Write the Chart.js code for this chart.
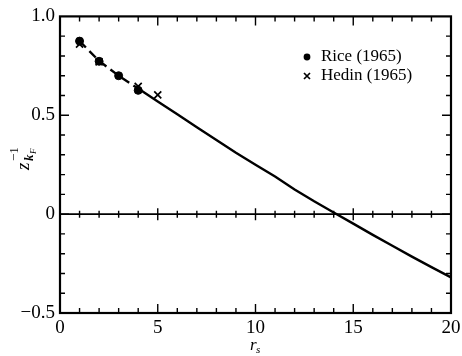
<!DOCTYPE html>
<html><head><meta charset="utf-8">
<script src="https://cdn.jsdelivr.net/npm/chart.js@4.4.1/dist/chart.umd.min.js"></script>
<style>html,body{margin:0;padding:0;background:#fff}#wrap{width:462px;height:356px}</style>
</head><body><div id="wrap"><canvas id="c" width="462" height="356"></canvas></div>
<script>
const curveDashX = [1, 2, 3, 4];
const curveDashY = [0.875, 0.775, 0.70, 0.635];
const curveX = [4, 5, 6, 7, 8, 9, 10, 11, 12, 13, 14, 15, 16, 17, 18, 19, 20];
const curveY = [0.635, 0.57, 0.505, 0.44, 0.375, 0.31, 0.25, 0.19, 0.125, 0.065, 0.008, -0.048, -0.105, -0.16, -0.215, -0.268, -0.32];
const riceX = [1, 2, 3, 4];
const riceY = [0.875, 0.773, 0.70, 0.626];
const hedinX = [1, 2, 4, 5];
const hedinY = [0.86, 0.77, 0.646, 0.603];
const xTicks = [0, 5, 10, 15, 20];
const yTicks = [-0.5, 0, 0.5, 1.0];
const yTickLabels = ['−0.5', '0', '0.5', '1.0'];
const legendLabels = ['Rice (1965)', 'Hedin (1965)'];

const pts = (xs, ys) => xs.map((x, i) => ({x, y: ys[i]}));
const SERIF = '"Liberation Serif", "DejaVu Serif", serif';

const deco = {
  id: 'deco',
  afterDraw(chart) {
    const ctx = chart.ctx, a = chart.chartArea;
    const xs = chart.scales.x, ys = chart.scales.y;
    ctx.save();
    ctx.strokeStyle = '#000';
    ctx.lineWidth = 2.2;
    ctx.strokeRect(a.left, a.top, a.right - a.left, a.bottom - a.top);
    const y0 = ys.getPixelForValue(0);
    ctx.lineWidth = 1.6;
    ctx.beginPath(); ctx.moveTo(a.left, y0); ctx.lineTo(a.right, y0); ctx.stroke();
    ctx.lineWidth = 1.4;
    ctx.beginPath();
    for (let v = 1; v < 20; v++) {
      const px = xs.getPixelForValue(v);
      const major = v % 5 === 0;
      const L = major ? 9 : 5;
      ctx.moveTo(px, a.bottom); ctx.lineTo(px, a.bottom - L);
      ctx.moveTo(px, a.top); ctx.lineTo(px, a.top + L);
      const Z = major ? 6 : 3.5;
      ctx.moveTo(px, y0 - Z); ctx.lineTo(px, y0 + Z);
    }
    for (let k = -4; k <= 9; k++) {
      const v = k / 10;
      const py = ys.getPixelForValue(v);
      const L = (k === 0 || k === 5) ? 9 : 5;
      ctx.moveTo(a.left, py); ctx.lineTo(a.left + L, py);
      ctx.moveTo(a.right, py); ctx.lineTo(a.right - L, py);
    }
    ctx.stroke();

    // legend
    ctx.fillStyle = '#000';
    ctx.font = '17px ' + SERIF;
    ctx.textBaseline = 'middle';
    ctx.textAlign = 'left';
    ctx.beginPath(); ctx.arc(307, 57, 3.4, 0, Math.PI * 2); ctx.fill();
    ctx.fillText(legendLabels[0], 321, 57);
    ctx.lineWidth = 1.7;
    ctx.beginPath();
    ctx.moveTo(304, 73); ctx.lineTo(310, 79);
    ctx.moveTo(310, 73); ctx.lineTo(304, 79);
    ctx.stroke();
    ctx.fillText(legendLabels[1], 321, 76);

    // x title r_s
    ctx.font = 'italic 17px ' + SERIF;
    ctx.textBaseline = 'alphabetic';
    ctx.fillText('r', 250, 350);
    ctx.font = 'italic 11px ' + SERIF;
    ctx.fillText('s', 256, 353);

    // y title z_{kF}^{-1}
    ctx.translate(29, 170);
    ctx.rotate(-Math.PI / 2);
    ctx.font = 'italic 19px ' + SERIF;
    ctx.fillText('z', 0, 0);
    ctx.font = '13px ' + SERIF;
    ctx.fillText('−1', 9, -11);
    ctx.font = 'italic bold 13px ' + SERIF;
    ctx.fillText('k', 9, 4);
    ctx.font = 'italic 9px ' + SERIF;
    ctx.fillText('F', 16, 7);
    ctx.restore();
  }
};

new Chart(document.getElementById('c'), {
  type: 'scatter',
  data: {
    datasets: [
      {data: pts(curveDashX, curveDashY), showLine: true, borderColor: '#000', borderWidth: 2.4, borderDash: [9, 5], pointRadius: 0},
      {data: pts(curveX, curveY), showLine: true, borderColor: '#000', borderWidth: 2.4, pointRadius: 0},
      {data: pts(riceX, riceY), pointStyle: 'circle', pointRadius: 4, backgroundColor: '#000', borderColor: '#000', borderWidth: 1},
      {data: pts(hedinX, hedinY), pointStyle: 'crossRot', pointRadius: 5, borderColor: '#000', borderWidth: 1.7}
    ]
  },
  options: {
    responsive: false,
    animation: false,
    layout: {padding: {left: 0, right: 0, top: 16, bottom: 0}},
    plugins: {legend: {display: false}, tooltip: {enabled: false}},
    scales: {
      x: {
        type: 'linear', min: 0, max: 20,
        afterBuildTicks: s => { s.ticks = xTicks.map(v => ({value: v})); },
        afterFit: s => { s.height = 43; s.paddingRight = 11; s.paddingLeft = 0; },
        grid: {display: false, drawTicks: false},
        border: {display: false},
        ticks: {color: '#000', padding: 4, font: {family: SERIF, size: 19}, maxRotation: 0}
      },
      y: {
        type: 'linear', min: -0.5, max: 1.0,
        afterBuildTicks: s => { s.ticks = yTicks.map(v => ({value: v})); },
        afterFit: s => { s.width = 60; },
        grid: {display: false, drawTicks: false},
        border: {display: false},
        ticks: {color: '#000', padding: 5, font: {family: SERIF, size: 19},
          callback: v => { const i = yTicks.indexOf(v); return i >= 0 ? yTickLabels[i] : ''; }}
      }
    }
  },
  plugins: [deco]
});
</script></body></html>
